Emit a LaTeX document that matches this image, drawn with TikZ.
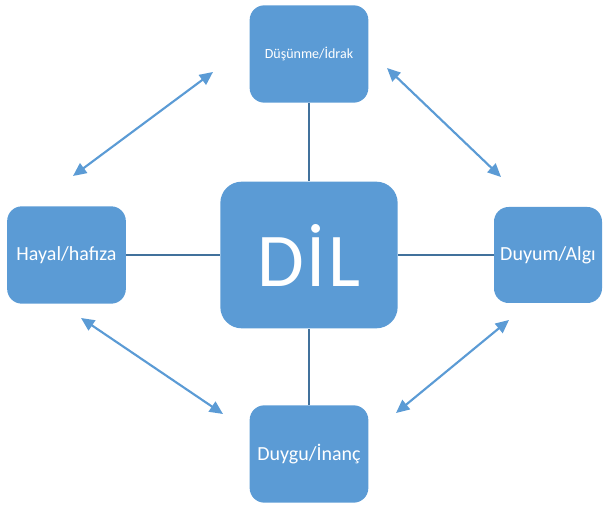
\documentclass[tikz,border=0pt]{standalone}
\usepackage{fontspec}
\setmainfont{Carlito}
\usepackage{xcolor}
\usetikzlibrary{arrows.meta}

\definecolor{kutu}{RGB}{91,155,213}
\definecolor{hat}{RGB}{65,113,156}

\tikzset{
  kavram/.style={fill=kutu, draw=none, rounded corners=11pt, text=white,
    font=\fontsize{15}{17}\selectfont, align=center, inner sep=0pt},
  baglanti/.style={draw=hat, line width=1.5pt},
  etkilesim/.style={draw=kutu, line width=1.6pt,
    {Triangle[length=10pt,width=9pt]}-{Triangle[length=10pt,width=9pt]}}
}

\begin{document}
\begin{tikzpicture}[x=0.75pt,y=0.75pt,yscale=-1,xscale=1]
    \useasboundingbox (0,0) rectangle (604,505);

    % Kavram kutulari
    \node [kavram, minimum width=89pt, minimum height=73pt] (dusunme) at (309,54) {\fontsize{10.5}{12}\selectfont Düşünme/İdrak};
    \node [kavram, minimum width=89pt, minimum height=73pt] (hayal) at (66.5,255) {Hayal/hafıza};
    \node [kavram, minimum width=81pt, minimum height=72pt] (duyum) at (548,255) {Duyum/Algı};
    \node [kavram, minimum width=89pt, minimum height=73pt] (duygu) at (309,454) {Duygu/İnanç};
    % Merkez
    \node [kavram, rounded corners=16pt, minimum width=133pt, minimum height=110pt,
      font=\fontsize{57}{60}\selectfont] (dil) at (309,255) {D\kern2ptİ\kern2ptL};

    % Baglanti cizgileri
    \draw [baglanti] (dusunme) -- (dil);
    \draw [baglanti] (hayal) -- (dil);
    \draw [baglanti] (duyum) -- (dil);
    \draw [baglanti] (duygu) -- (dil);

    % Cift yonlu oklar
    \coordinate (ust-sol-a) at (73,176);
    \coordinate (ust-sol-b) at (213,72);
    \coordinate (ust-sag-a) at (387,68);
    \coordinate (ust-sag-b) at (501,177);
    \coordinate (alt-sol-a) at (81,318);
    \coordinate (alt-sol-b) at (223,414);
    \coordinate (alt-sag-a) at (396,413);
    \coordinate (alt-sag-b) at (509,320);
    \draw [etkilesim] (ust-sol-a) -- (ust-sol-b);
    \draw [etkilesim] (ust-sag-a) -- (ust-sag-b);
    \draw [etkilesim] (alt-sol-a) -- (alt-sol-b);
    \draw [etkilesim] (alt-sag-a) -- (alt-sag-b);

\end{tikzpicture}
\end{document}
